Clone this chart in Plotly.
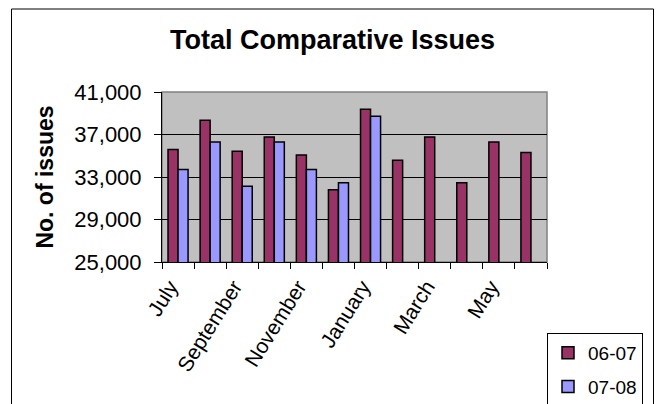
import plotly.graph_objects as go

months = ["July", "August", "September", "October", "November", "December",
          "January", "February", "March", "April", "May", "June"]
issues_0607 = [35600, 38350, 35420, 36760, 35070, 31800, 39370, 34570, 36760, 32470, 36300, 35300]
issues_0708 = [33700, 36300, 32120, 36300, 33700, 32470, 38710, None, None, None, None, None]
series_names = ["06-07", "07-08"]
y_ticks = [25000, 29000, 33000, 37000, 41000]

W, H = 658, 404
L, R, T, B = 162, 111, 92, 142
pw, ph = W - L - R, H - T - B

def px_x(p):
    return (p - L) / pw

def px_y(p):
    return (H - B - p) / ph

FONT = "Arial, Liberation Sans, sans-serif"
xs = list(range(len(months)))

fig = go.Figure()
fig.add_trace(go.Bar(x=xs, y=issues_0607, name=series_names[0], legendgroup="a",
                     marker=dict(color="#993366", line=dict(color="black", width=1.5))))
fig.add_trace(go.Bar(x=xs, y=issues_0708, name=series_names[1], legendgroup="b",
                     marker=dict(color="#9999FF", line=dict(color="black", width=1.5))))

fig.update_layout(
    width=W, height=H,
    margin=dict(l=L, r=R, t=T, b=B, autoexpand=False),
    paper_bgcolor="white", plot_bgcolor="#C0C0C0",
    barmode="group", bargap=0.375, bargroupgap=0,
    font=dict(family=FONT, color="black"),
    title=dict(text="<b>Total Comparative Issues</b>", font=dict(size=27, family=FONT),
               x=332.5 / W, xanchor="center", xref="container",
               y=1 - 40 / H, yanchor="middle", yref="container"),
    legend=dict(x=547 / W, y=1 - 333 / H, xanchor="left", yanchor="top",
                xref="container", yref="container",
                bordercolor="black", borderwidth=1, bgcolor="white",
                font=dict(size=19, family=FONT), tracegroupgap=6,
                itemwidth=30),
    showlegend=True,
)

fig.update_xaxes(
    range=[-0.5, len(months) - 0.5],
    tickmode="array", tickvals=[i - 0.25 for i in xs[::2]], ticktext=months[::2],
    tickangle=-58, tickfont=dict(size=21, family=FONT),
    ticks="", showgrid=False, zeroline=False,
    showline=True, linecolor="black", linewidth=1,
    ticklabelstandoff=3,
    minor=dict(tickmode="array", tickvals=[i - 0.5 for i in range(len(months) + 1)],
               ticks="outside", ticklen=6, tickcolor="black", showgrid=False),
)
fig.update_yaxes(
    range=[y_ticks[0], y_ticks[-1]], tickmode="array", tickvals=y_ticks,
    tickformat=",d", tickfont=dict(size=22, family=FONT),
    ticks="outside", ticklen=7, tickcolor="black",
    showgrid=True, gridcolor="black", gridwidth=1, zeroline=False,
    showline=True, linecolor="black", linewidth=1,
    ticklabelstandoff=8,
    title=dict(text="<b>No. of issues</b>", font=dict(size=23, family=FONT), standoff=14),
)

# plot-area border (grey)
fig.add_shape(type="rect", xref="paper", yref="paper", x0=0, x1=1, y0=0, y1=1,
              line=dict(color="#808080", width=1.5), layer="below")
# outer chart border
fig.add_shape(type="rect", xref="paper", yref="paper",
              x0=px_x(11.5), x1=px_x(653.5), y0=px_y(412), y1=px_y(9),
              line=dict(color="black", width=1))

fig.write_html("out.html")
